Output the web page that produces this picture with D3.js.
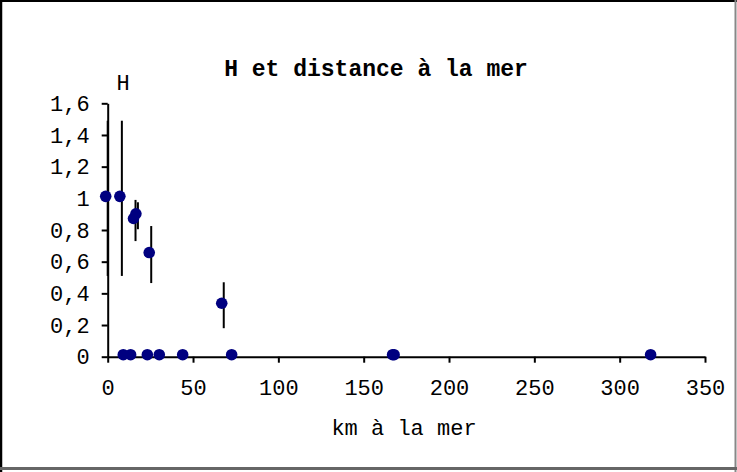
<!DOCTYPE html>
<html>
<head>
<meta charset="utf-8">
<script src="https://cdn.jsdelivr.net/npm/d3@7"></script>
<style>
  body { margin: 0; background: #fff; }
  svg text { font-family: "Liberation Mono", "Courier New", monospace; fill: #000; }
</style>
</head>
<body>
<svg id="chart" width="737" height="472"></svg>
<script>
// points with error bars (km to the sea, H, +/- error)
const distKm = [0, 8.3, 16.3, 17.7, 25.5, 68];
const hValues = [1.0, 1.0, 0.86, 0.89, 0.645, 0.325];
const hErrors = [0.49, 0.49, 0.13, 0.085, 0.18, 0.145];
// points sitting at H = 0 (no error bar)
const zeroDistKm = [10.3, 14.6, 24.4, 31.4, 45.1, 73.8, 168.1, 169, 319.3];

const xTicks = [0, 50, 100, 150, 200, 250, 300, 350];
const yTicks = [0, 0.2, 0.4, 0.6, 0.8, 1, 1.2, 1.4, 1.6];
const yTickLabels = ['0', '0,2', '0,4', '0,6', '0,8', '1', '1,2', '1,4', '1,6'];

const svg = d3.select('#chart');
const W = 737, H = 472;

// chart frame
svg.append('line').attr('x1', 1).attr('y1', 0).attr('x2', 1).attr('y2', H).attr('stroke', '#000').attr('stroke-width', 2.5);
svg.append('line').attr('x1', 0).attr('y1', 1).attr('x2', W).attr('y2', 1).attr('stroke', '#000').attr('stroke-width', 2);
svg.append('line').attr('x1', W - 1.5).attr('y1', 0).attr('x2', W - 1.5).attr('y2', H).attr('stroke', '#888').attr('stroke-width', 2);
svg.append('line').attr('x1', 0).attr('y1', 468.5).attr('x2', W).attr('y2', 468.5).attr('stroke', '#666').attr('stroke-width', 3);

const x = d3.scaleLinear().domain([0, 350]).range([107.7, 705]);
const y = d3.scaleLinear().domain([0, 1.6]).range([356.7, 103.3]);

// axes
const yAxis = d3.axisLeft(y).tickValues(yTicks).tickFormat((d, i) => yTickLabels[i])
  .tickSize(6).tickSizeOuter(0).tickPadding(12);
const gy = svg.append('g').attr('transform', `translate(${x(0)},0)`).call(yAxis);

const xAxis = d3.axisBottom(x).tickValues(xTicks).tickFormat(d3.format('d'))
  .tickSize(6).tickSizeOuter(0);
const gx = svg.append('g').attr('transform', `translate(0,${y(0)})`).call(xAxis);

[gx, gy].forEach(g => {
  g.select('.domain').attr('stroke', '#000').attr('stroke-width', 2);
  g.selectAll('.tick line').attr('stroke', '#000').attr('stroke-width', 2);
  g.selectAll('text').attr('font-size', 22).attr('font-family', '"Liberation Mono", monospace').attr('fill', '#111');
});
gx.selectAll('.tick text').attr('y', 38).attr('dy', 0);

// error bars
const pts = distKm.map((d, i) => ({ x: d, y: hValues[i], e: hErrors[i] }));
svg.append('g').selectAll('line').data(pts).enter().append('line')
  .attr('x1', d => x(d.x)).attr('x2', d => x(d.x))
  .attr('y1', d => y(d.y + d.e)).attr('y2', d => y(d.y - d.e))
  .attr('stroke', '#000').attr('stroke-width', 2);

// markers (drawn slightly up-left, as in the original rendering)
const markerShift = -2;
const allPts = pts.concat(zeroDistKm.map(d => ({ x: d, y: 0 })));
svg.append('g').selectAll('circle').data(allPts).enter().append('circle')
  .attr('cx', d => x(d.x) + markerShift).attr('cy', d => y(d.y) + markerShift)
  .attr('r', 5.8).attr('fill', '#000080');

// titles
svg.append('text').attr('x', 376).attr('y', 76).attr('text-anchor', 'middle')
  .attr('font-size', 23).attr('font-weight', 'bold').text('H et distance à la mer');
svg.append('text').attr('x', 123).attr('y', 90).attr('text-anchor', 'middle')
  .attr('font-size', 22).attr('fill', '#111').text('H');
svg.append('text').attr('x', 404).attr('y', 435).attr('text-anchor', 'middle')
  .attr('font-size', 22).attr('fill', '#111').text('km à la mer');
</script>
</body>
</html>
